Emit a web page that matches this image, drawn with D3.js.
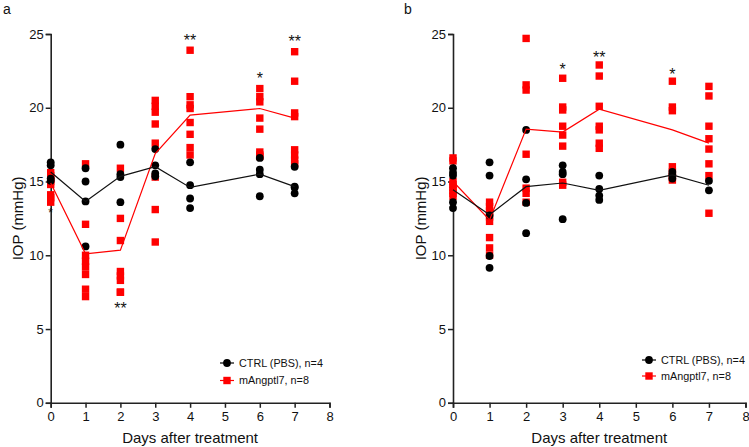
<!DOCTYPE html>
<html><head><meta charset="utf-8">
<script src="https://cdn.jsdelivr.net/npm/d3@7"></script>
<style>
body{margin:0;background:#fff}
svg{display:block}
text{font-family:"Liberation Sans",Arial,Helvetica,sans-serif;fill:#111}
</style>
</head><body>
<svg id="c" width="749" height="447"></svg>
<script>
// ---------- data ----------
const days = [0, 1, 2, 3, 4, 6, 7];
const xTicks = [0, 1, 2, 3, 4, 5, 6, 7, 8];
const yTicks = [0, 5, 10, 15, 20, 25];
const legendLabels = ["CTRL (PBS), n=4", "mAngptl7, n=8"];
const xTitle = "Days after treatment";
const yTitle = "IOP (mmHg)";

// panel a
const ctrlA = [
  [16.3, 16.1, 15.2, 15.05],
  [15.9, 15.0, 13.65, 10.6],
  [17.5, 15.5, 15.3, 13.6],
  [17.2, 16.1, 15.55, 15.35],
  [16.3, 14.75, 13.85, 13.2],
  [16.6, 15.8, 15.5, 14.0],
  [16.0, 14.65, 14.6, 14.2]
];
const angA = [
  [15.6, 15.4, 15.2, 15.0, 14.8, 14.1, 13.9, 13.6],
  [16.2, 12.1, 10.0, 9.6, 9.2, 8.7, 7.7, 7.2],
  [15.9, 12.5, 11.0, 8.9, 8.6, 8.3, 7.5, 7.5],
  [20.5, 20.1, 19.7, 18.9, 17.6, 15.3, 13.1, 10.9],
  [23.9, 20.75, 20.2, 19.95, 19.0, 18.2, 17.3, 16.8],
  [21.3, 20.75, 20.4, 19.3, 18.55, 17.0, 16.8, 16.7],
  [23.8, 21.8, 19.65, 19.4, 17.15, 16.8, 16.45, 16.2]
];
const ctrlLineA = [15.65, 13.65, 15.35, 16.0, 14.6, 15.5, 14.65];
const angLineA = [14.9, 10.1, 10.35, 16.9, 19.5, 19.95, 19.3];
const starsA = [
  {day: 0, value: 13.05, text: "*"},
  {day: 2, value: 6.65, text: "**"},
  {day: 4, value: 24.8, text: "**"},
  {day: 6, value: 22.2, text: "*"},
  {day: 7, value: 24.7, text: "**"}
];

// panel b
const ctrlB = [
  [15.9, 15.6, 15.4, 13.6, 13.2],
  [16.3, 15.4, 12.7, 9.95, 9.15],
  [18.5, 15.15, 13.55, 11.5],
  [16.1, 15.65, 15.5, 12.45],
  [15.4, 14.5, 14.05, 13.75],
  [15.65, 15.45, 15.2],
  [15.05, 14.4]
];
const angB = [
  [16.6, 16.4, 15.0, 14.8, 14.6, 14.4, 14.2, 14.0],
  [13.6, 13.3, 13.0, 12.6, 12.3, 11.2, 10.5, 10.0],
  [24.7, 21.55, 21.2, 16.85, 14.55, 14.2, 13.6],
  [22.0, 20.05, 19.85, 18.75, 18.15, 17.4, 14.95, 14.75],
  [22.9, 22.15, 20.1, 18.75, 18.5, 17.6, 17.25],
  [21.8, 20.05, 19.8, 16.0, 15.65, 15.3, 15.1],
  [21.45, 20.8, 18.75, 17.9, 17.2, 16.2, 15.4, 12.85]
];
const ctrlLineB = [14.45, 12.75, 14.65, 14.9, 14.4, 15.45, 14.75];
const angLineB = [15.0, 12.4, 18.55, 18.35, 19.9, 18.5, 17.6];
const starsB = [
  {day: 3, value: 22.8, text: "*"},
  {day: 4, value: 23.65, text: "**"},
  {day: 6, value: 22.5, text: "*"}
];

// ---------- layout ----------
const RED = "#ff0000";
const panels = [
  {letter: "a", ctrl: ctrlA, ang: angA, ctrlLine: ctrlLineA, angLine: angLineA, stars: starsA,
   x0: 50.7, x1: 329.5, letterX: 3, yTitleX: 18, legX: 227, legY: 363, legGap: 17.5},
  {letter: "b", ctrl: ctrlB, ang: angB, ctrlLine: ctrlLineB, angLine: angLineB, stars: starsB,
   x0: 453, x1: 745.5, letterX: 404, yTitleX: 421, legX: 649, legY: 360, legGap: 16}
];
const yTop = 34, yBot = 402.8;
const svg = d3.select("#c");

panels.forEach(p => {
  const x = d3.scaleLinear().domain([0, 8]).range([p.x0, p.x1]);
  const y = d3.scaleLinear().domain([0, 25]).range([yBot, yTop]);
  const g = svg.append("g");

  // axes
  const xa = g.append("g").attr("transform", `translate(0,${yBot})`)
    .call(d3.axisBottom(x).tickValues(xTicks).tickFormat(d3.format("d")).tickSizeOuter(0).tickSize(5).tickPadding(4));
  const ya = g.append("g").attr("transform", `translate(${p.x0},0)`)
    .call(d3.axisLeft(y).tickValues(yTicks).tickFormat(d3.format("d")).tickSizeOuter(0).tickSize(5).tickPadding(2));
  [xa, ya].forEach(a => {
    a.select(".domain").attr("stroke", "#222").attr("stroke-width", 1.6);
    a.selectAll(".tick line").attr("stroke", "#222").attr("stroke-width", 1.5);
    a.selectAll(".tick text").attr("font-size", 13).attr("fill", "#111")
      .style("font-family", "'Liberation Sans',Arial,sans-serif");
  });

  // titles
  g.append("text").attr("x", (p.x0 + p.x1) / 2).attr("y", 443)
    .attr("text-anchor", "middle").attr("font-size", 15).text(xTitle);
  g.append("text").attr("transform", `translate(${p.yTitleX},${(yTop + yBot) / 2}) rotate(-90)`)
    .attr("text-anchor", "middle").attr("dy", "0.35em").attr("font-size", 15).text(yTitle);
  g.append("text").attr("x", p.letterX).attr("y", 14).attr("font-size", 14).text(p.letter);

  // red squares
  const sq = 7.4;
  const angPts = [];
  p.ang.forEach((vals, i) => vals.forEach(v => angPts.push({d: days[i], v})));
  g.append("g").selectAll("rect").data(angPts).join("rect")
    .attr("x", d => x(d.d) - sq / 2).attr("y", d => y(d.v) - sq / 2)
    .attr("width", sq).attr("height", sq).attr("fill", RED);

  // black circles
  const ctrlPts = [];
  p.ctrl.forEach((vals, i) => vals.forEach(v => ctrlPts.push({d: days[i], v})));
  g.append("g").selectAll("circle").data(ctrlPts).join("circle")
    .attr("cx", d => x(d.d)).attr("cy", d => y(d.v)).attr("r", 3.9).attr("fill", "#000");

  // lines
  const line = d3.line().x((d, i) => x(days[i])).y(d => y(d));
  g.append("path").datum(p.angLine).attr("d", line).attr("fill", "none")
    .attr("stroke", RED).attr("stroke-width", 1.2);
  g.append("path").datum(p.ctrlLine).attr("d", line).attr("fill", "none")
    .attr("stroke", "#111").attr("stroke-width", 1.2);

  // significance stars
  g.append("g").selectAll("text").data(p.stars).join("text")
    .attr("x", d => x(d.day)).attr("y", d => y(d.value) + (d.day === 0 ? 6.5 : 9))
    .attr("text-anchor", "middle").attr("font-size", d => d.day === 0 ? 12 : 16)
    .attr("fill", "#000").text(d => d.text);

  // legend
  const lg = g.append("g");
  lg.append("line").attr("x1", p.legX - 7).attr("x2", p.legX + 7)
    .attr("y1", p.legY).attr("y2", p.legY).attr("stroke", "#000").attr("stroke-width", 1.2);
  lg.append("circle").attr("cx", p.legX).attr("cy", p.legY).attr("r", 3.9).attr("fill", "#000");
  lg.append("line").attr("x1", p.legX - 7).attr("x2", p.legX + 7)
    .attr("y1", p.legY + p.legGap).attr("y2", p.legY + p.legGap).attr("stroke", RED).attr("stroke-width", 1.2);
  lg.append("rect").attr("x", p.legX - sq / 2).attr("y", p.legY + p.legGap - sq / 2)
    .attr("width", sq).attr("height", sq).attr("fill", RED);
  legendLabels.forEach((t, i) => {
    lg.append("text").attr("x", p.legX + 12).attr("y", p.legY + i * p.legGap)
      .attr("dy", "0.35em").attr("font-size", 10.8).text(t);
  });
});
</script>
</body></html>
